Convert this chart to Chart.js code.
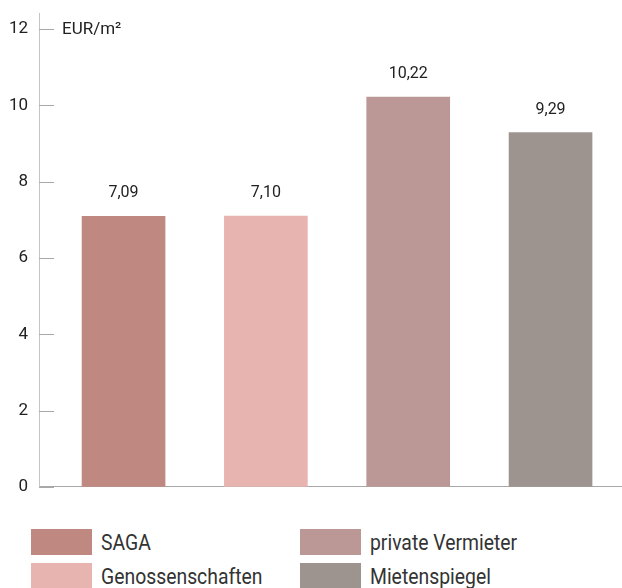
<!DOCTYPE html>
<html>
<head>
<meta charset="utf-8">
<script src="https://cdn.jsdelivr.net/npm/chart.js@4.4.1/dist/chart.umd.min.js"></script>
<style>
  html, body { margin: 0; padding: 0; background: #fff; }
  body { width: 622px; height: 588px; overflow: hidden; font-family: Roboto, sans-serif; }
  .chart-wrap { position: relative; width: 622px; height: 516px; margin-top: -8px; }
  .legend { position: relative; width: 622px; height: 80px; }
  .legend-item { position: absolute; display: flex; align-items: center; color: #333; font-size: 22px; }
  .legend-item .sw { width: 61px; height: 26px; margin-right: 9px; flex: none; }
  .legend-item span { display: inline-block; transform: scaleX(0.88); transform-origin: left center; white-space: nowrap; }
</style>
</head>
<body>
<div class="chart-wrap"><canvas id="c"></canvas></div>
<div class="legend" id="legend"></div>
<script>
const CATEGORIES = ['SAGA', 'Genossenschaften', 'private Vermieter', 'Mietenspiegel'];
const VALUES = [7.09, 7.10, 10.22, 9.29];
const COLORS = ['#bf8880', '#e8b4b0', '#bb9896', '#9e948f'];
const Y_TICKS = [0, 2, 4, 6, 8, 10, 12];
const UNIT = 'EUR/m²';

// legend grid: two columns, SAGA/Genossenschaften left, the rest right
const LEGEND_POS = [[31, 21], [31, 55], [300, 21], [300, 55]];

const fmt = (v) => v.toFixed(2).replace('.', ',');

// value labels above bars, small tick marks pointing into the plot, unit label
const extras = {
  id: 'extras',
  afterDraw(chart) {
    const ctx = chart.ctx;
    const y = chart.scales.y;
    ctx.save();
    ctx.strokeStyle = '#a8a8a8';
    ctx.lineWidth = 1;
    Y_TICKS.forEach((t) => {
      const py = Math.round(y.getPixelForValue(t)) + 0.5;
      ctx.beginPath();
      ctx.moveTo(y.right, py);
      ctx.lineTo(y.right + 15, py);
      ctx.stroke();
    });
    ctx.fillStyle = '#222';
    ctx.font = '16px Roboto, sans-serif';
    ctx.textAlign = 'center';
    ctx.textBaseline = 'middle';
    chart.getDatasetMeta(0).data.forEach((bar, i) => {
      ctx.fillText(fmt(VALUES[i]), bar.x, bar.y - 23);
    });
    ctx.textAlign = 'left';
    ctx.font = '17px Roboto, sans-serif';
    ctx.fillText(UNIT, 62, y.getPixelForValue(12) + 1);
    ctx.restore();
  },
};

new Chart(document.getElementById('c'), {
  type: 'bar',
  data: {
    datasets: [{
      data: VALUES.map((v, i) => ({ x: i, y: v })),
      backgroundColor: COLORS,
      barThickness: 83,
      borderWidth: 0,
    }],
  },
  options: {
    responsive: true,
    maintainAspectRatio: false,
    animation: false,
    layout: { padding: { top: 4, right: 0, bottom: 6, left: 0 } },
    plugins: { legend: { display: false }, tooltip: { enabled: false } },
    scales: {
      x: {
        type: 'linear',
        offset: false,
        min: -0.594,
        max: 3.502,
        grid: { display: false },
        border: { display: true, color: '#a8a8a8' },
        ticks: { display: false },
        afterFit: (s) => { s.height = 0; },
      },
      y: {
        min: 0,
        max: 12.42,
        grid: { display: false, drawTicks: false },
        border: { display: true, color: '#c4c4c4' },
        ticks: {
          color: '#222',
          font: { family: 'Roboto, sans-serif', size: 17 },
          padding: 11,
          stepSize: 2,
        },
        afterBuildTicks: (s) => { s.ticks = Y_TICKS.map((v) => ({ value: v })); },
        afterFit: (s) => { s.width = 39; },
      },
    },
  },
  plugins: [extras],
});

const legend = document.getElementById('legend');
CATEGORIES.forEach((name, i) => {
  const item = document.createElement('div');
  item.className = 'legend-item';
  item.style.left = LEGEND_POS[i][0] + 'px';
  item.style.top = LEGEND_POS[i][1] + 'px';
  item.innerHTML = '<div class="sw" style="background:' + COLORS[i] + '"></div><span>' + name + '</span>';
  legend.appendChild(item);
});
</script>
</body>
</html>
